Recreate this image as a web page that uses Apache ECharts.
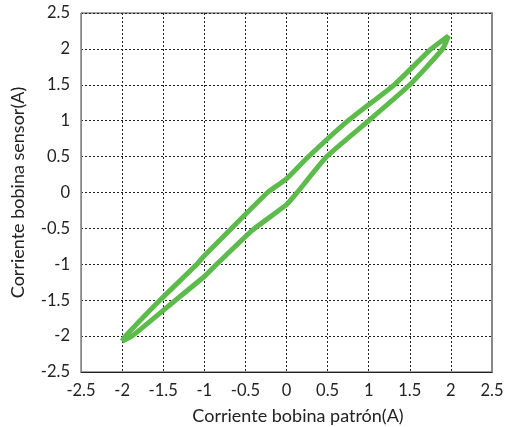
<!DOCTYPE html>
<html>
<head>
<meta charset="utf-8">
<script src="https://cdn.jsdelivr.net/npm/echarts@6/dist/echarts.min.js"></script>
<style>html,body{margin:0;padding:0;background:#fff}#c{width:512px;height:427px}</style>
</head>
<body>
<div id="c"></div>
<script>
// Hysteresis loop: upper branch (rising) and lower branch (falling)
const upperX = [-2.00, -1.96, -1.54, -1.09, -1.00, -0.67, -0.23, 0.00, 0.25, 0.75, 1.31, 1.76, 1.97];
const upperY = [-2.07, -2.00, -1.50, -1.00, -0.88, -0.50, 0.00, 0.19, 0.48, 1.00, 1.50, 2.00, 2.18];
const lowerX = [1.97, 1.90, 1.50, 1.00, 0.49, 0.13, 0.00, -0.41, -0.85, -1.00, -1.35, -1.88, -2.00];
const lowerY = [2.18, 2.00, 1.50, 1.00, 0.50, 0.00, -0.17, -0.52, -1.00, -1.17, -1.50, -2.00, -2.07];
const xTicks = [-2.5, -2, -1.5, -1, -0.5, 0, 0.5, 1, 1.5, 2, 2.5];
const yTicks = [-2.5, -2, -1.5, -1, -0.5, 0, 0.5, 1, 1.5, 2, 2.5];
const xName = 'Corriente bobina patrón(A)';
const yName = 'Corriente bobina sensor(A)';

const loop = [];
upperX.forEach((x, i) => loop.push([x, upperY[i]]));
lowerX.forEach((x, i) => loop.push([x, lowerY[i]]));

const font = 'Lato, "Liberation Sans", sans-serif';
const chart = echarts.init(document.getElementById('c'));
chart.setOption({
  animation: false,
  grid: { left: 81, right: 20, top: 13, bottom: 55, show: true, borderColor: '#444', borderWidth: 1,
          containLabel: false, outerBoundsMode: 'none' },
  xAxis: {
    type: 'value', min: xTicks[0], max: xTicks[xTicks.length - 1], interval: 0.5,
    name: xName, nameLocation: 'middle', nameGap: 35,
    nameTextStyle: { fontFamily: font, fontSize: 18, color: '#222', padding: [0, 0, 0, 23] },
    axisLine: { onZero: false, lineStyle: { color: '#222', width: 1 } },
    axisTick: { show: false },
    axisLabel: { fontFamily: font, fontSize: 16.5, color: '#222', margin: 10, formatter: v => String(v) },
    splitLine: { lineStyle: { color: '#222', type: [2, 2], width: 1 } }
  },
  yAxis: [{
    type: 'value', min: yTicks[0], max: yTicks[yTicks.length - 1], interval: 0.5,
    name: yName, nameLocation: 'middle', nameGap: 47, nameRotate: 90,
    nameTextStyle: { fontFamily: font, fontSize: 18, color: '#222', padding: [0, 0, 7, 0] },
    axisLine: { onZero: false, lineStyle: { color: '#888', width: 1 } },
    axisTick: { show: false },
    axisLabel: { fontFamily: font, fontSize: 16.5, color: '#222', margin: 11, formatter: v => String(v) },
    splitLine: { lineStyle: { color: '#222', type: [2, 2], width: 1 } }
  }, {
    type: 'value', position: 'right', min: yTicks[0], max: yTicks[yTicks.length - 1], interval: 0.5,
    axisLine: { show: true, onZero: false, lineStyle: { color: '#888', width: 2 } },
    axisTick: { show: false }, axisLabel: { show: false }, splitLine: { show: false }
  }],
  series: [{
    type: 'line', data: loop, yAxisIndex: 0, showSymbol: false, smooth: 0.15,
    lineStyle: { color: '#5cbb4a', width: 5 }
  }]
});
</script>
</body>
</html>
